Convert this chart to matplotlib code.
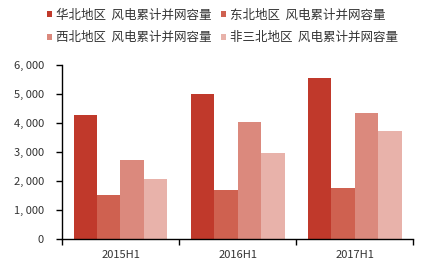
import numpy as np
import matplotlib
matplotlib.use('Agg')
import matplotlib.pyplot as plt
from matplotlib.ticker import FuncFormatter

plt.rcParams['font.family'] = ['Noto Sans CJK SC', 'DejaVu Sans']

categories = ['2015H1', '2016H1', '2017H1']
series_names = ['华北地区  风电累计并网容量', '东北地区  风电累计并网容量',
                '西北地区  风电累计并网容量', '非三北地区  风电累计并网容量']
huabei = [4270, 5000, 5530]
dongbei = [1510, 1700, 1750]
xibei = [2700, 4020, 4330]
fei_sanbei = [2060, 2950, 3720]
colors = ['#C0392B', '#CF6150', '#DB897D', '#E8B2AA']

fig = plt.figure(figsize=(4.24, 2.73), dpi=100)
ax = fig.add_axes([0.146, 0.125, 0.829, 0.638])

x = np.arange(len(categories))
width = 0.2
bars = []
for i, vals in enumerate([huabei, dongbei, xibei, fei_sanbei]):
    bars.append(ax.bar(x + (i - 1.5) * width, vals, width, color=colors[i],
                       label=series_names[i]))

ax.set_xlim(-0.5, 2.5)
ax.set_ylim(0, 6000)
ax.set_yticks(range(0, 6001, 1000))
ax.yaxis.set_major_formatter(FuncFormatter(
    lambda v, p: '0' if v == 0 else f'{int(v):,}'.replace(',', ', ')))
ax.set_xticks(x)
ax.set_xticklabels(categories)
ax.set_xticks([-0.5, 0.5, 1.5, 2.5], minor=True)
ax.tick_params(axis='x', which='major', length=0, labelsize=8, pad=8, labelcolor='#333333')
ax.tick_params(axis='x', which='minor', length=4, width=1, direction='out')
ax.tick_params(axis='y', length=4, width=1, direction='out', labelsize=8, pad=9,
               labelcolor='#333333')
for s in ['top', 'right']:
    ax.spines[s].set_visible(False)
for s in ['left', 'bottom']:
    ax.spines[s].set_linewidth(1)

# legend rows: 华北, 东北 / 西北, 非三北 (column-major fill)
order = [0, 2, 1, 3]
fig.legend([bars[i] for i in order], [series_names[i] for i in order],
           loc='center', bbox_to_anchor=(0.525, 0.903), ncol=2, frameon=False,
           fontsize=9, handlelength=0.4, handleheight=0.4, handletextpad=0.3,
           columnspacing=0.8, labelspacing=0.75, borderpad=0,
           labelcolor='#333333')

fig.savefig('out.png', dpi=100)
